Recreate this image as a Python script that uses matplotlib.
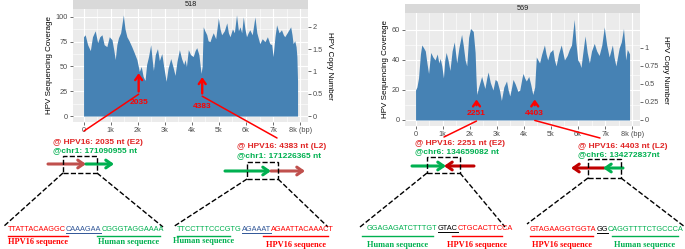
import matplotlib
matplotlib.use('Agg')
import matplotlib.pyplot as plt
from matplotlib.lines import Line2D
from matplotlib.patches import Rectangle, ConnectionPatch, FancyArrowPatch

plt.rcParams['font.family'] = ['Liberation Sans', 'DejaVu Sans']

# --- coverage, sample 518 (bp, reads) ---
pos_518 = [0, 60, 150, 250, 330, 430, 520, 600, 680, 760, 860, 950, 1050, 1120, 1170, 1230,
           1290, 1370, 1470, 1530, 1600, 1680, 1780, 1870, 1970, 2060, 2130, 2200, 2270, 2330,
           2400, 2480, 2530, 2580, 2650, 2730, 2800, 2890, 2960, 3050, 3120, 3220, 3300, 3380,
           3450, 3540, 3620, 3700, 3750, 3800, 3870, 3950, 4050, 4120, 4180, 4260, 4340, 4380,
           4420, 4480, 4550, 4600, 4670, 4730, 4790, 4880, 4980, 5040, 5100, 5200, 5290, 5350,
           5410, 5500, 5570, 5650, 5720, 5780, 5840, 5900, 5960, 6020, 6080, 6140, 6230, 6330,
           6400, 6510, 6600, 6700, 6790, 6880, 6950, 7000, 7070, 7130, 7220, 7310, 7380, 7430,
           7520, 7650, 7700, 7740, 7800, 7850, 7880, 7904]
cov_518 = [80, 82, 72, 66, 80, 86, 74, 80, 82, 72, 70, 80, 77, 66, 57, 72,
           79, 84, 102, 88, 80, 76, 70, 64, 57, 45, 50, 40, 36, 52,
           60, 72, 58, 46, 62, 68, 56, 63, 50, 35, 48, 58, 50, 41,
           55, 67, 58, 52, 57, 50, 67, 62, 60, 66, 69, 62, 43, 50,
           90, 86, 82, 76, 75, 80, 84, 78, 99, 88, 82, 86, 94, 84,
           80, 88, 84, 102, 86, 90, 84, 100, 88, 80, 84, 87, 82, 100,
           84, 73, 78, 75, 80, 73, 72, 60, 80, 92, 84, 87, 82, 80,
           84, 90, 82, 73, 76, 70, 60, 35]

# --- coverage, sample 569 ---
pos_569 = [0, 50, 110, 180, 230, 300, 360, 420, 480, 560, 640, 720, 800, 860, 910, 970,
           1030, 1080, 1130, 1200, 1270, 1350, 1430, 1520, 1600, 1700, 1760, 1830, 1890, 1960,
           2030, 2130, 2200, 2230, 2260, 2330, 2440, 2500, 2560, 2630, 2680, 2760, 2860, 2940,
           3010, 3100, 3170, 3260, 3360, 3420, 3480, 3550, 3600, 3680, 3780, 3850, 3930, 3970,
           4030, 4090, 4180, 4250, 4330, 4400, 4460, 4520, 4580, 4660, 4760, 4820, 4880, 4960,
           5070, 5130, 5190, 5280, 5380, 5440, 5500, 5600, 5680, 5760, 5860, 5920, 5990, 6060,
           6110, 6180, 6260, 6340, 6420, 6500, 6600, 6690, 6780, 6880, 6970, 7060, 7150, 7210,
           7270, 7330, 7400, 7460, 7520, 7600, 7680, 7730, 7760, 7820, 7880, 7904]
cov_569 = [20, 22, 28, 44, 50, 48, 46, 38, 31, 45, 42, 40, 44, 38, 41, 36,
           28, 40, 45, 40, 33, 46, 52, 38, 48, 57, 50, 40, 36, 55,
           61, 59, 45, 29, 17, 22, 29, 25, 21, 28, 32, 25, 20, 27,
           26, 20, 13, 22, 26, 20, 16, 22, 27, 24, 19, 20, 28, 31,
           28, 26, 29, 24, 17, 22, 42, 40, 38, 44, 50, 44, 40, 45,
           47, 40, 36, 44, 50, 45, 40, 43, 47, 50, 67, 52, 40, 38,
           35, 45, 56, 45, 38, 46, 51, 46, 43, 50, 62, 50, 42, 46,
           50, 42, 36, 42, 48, 52, 61, 50, 40, 47, 45, 44]

x_ticks = [0, 1000, 2000, 3000, 4000, 5000, 6000, 7000, 8000]
x_labels = ['0', '1k', '2k', '3k', '4k', '5k', '6k', '7k', '8k (bp)']

W, H = 685, 249
RED = '#FF0000'
GREEN = '#00B050'
BLUE = '#2F5597'


def px(x, y):
    return (x / W, 1 - y / H)


def coverage_panel(fig, rect, strip, pos, cov, ylim, yticks, ratio, cn_ticks, cn_labels):
    x0, y0, x1, y1 = rect
    ax = fig.add_axes([x0 / W, 1 - y1 / H, (x1 - x0) / W, (y1 - y0) / H])
    ax.set_facecolor('#EBEBEB')
    ax.fill_between(pos, cov, 0, color='#4682B4', lw=0, zorder=3)
    ax.set_xlim(-390, 8290)
    ax.set_ylim(*ylim)
    ax.set_xticks(x_ticks)
    ax.set_xticklabels(x_labels)
    ax.set_xticks([500 + 1000 * i for i in range(8)], minor=True)
    ax.set_yticks(yticks)
    ax.set_yticks([(a + b) / 2 for a, b in zip(yticks[:-1], yticks[1:])], minor=True)
    ax.grid(True, which='major', color='white', lw=0.8, zorder=0)
    ax.grid(True, which='minor', color='white', lw=0.4, zorder=0)
    for s in ax.spines.values():
        s.set_visible(False)
    ax.tick_params(which='major', length=2, width=0.5, color='#333333',
                   labelsize=5.3, labelcolor='#4D4D4D', pad=1.5)
    ax.tick_params(which='minor', length=0)
    ax.set_ylabel('HPV Sequencing Coverage', fontsize=5.8, labelpad=2)

    sec = ax.secondary_yaxis('right', functions=(lambda v: v / ratio, lambda v: v * ratio))
    sec.set_yticks(cn_ticks)
    sec.set_yticklabels(cn_labels)
    sec.spines['right'].set_visible(False)
    sec.tick_params(length=2, width=0.5, color='#333333', labelsize=5.3,
                    labelcolor='#4D4D4D', pad=1.5)
    sec.set_ylabel('HPV Copy Number', fontsize=5.8, rotation=270, labelpad=7)

    sa = fig.add_axes([x0 / W, 1 - y0 / H, (x1 - x0) / W, 9 / H])
    sa.set_facecolor('#D9D9D9')
    sa.set_xticks([])
    sa.set_yticks([])
    for s in sa.spines.values():
        s.set_visible(False)
    sa.text(0.5, 0.45, strip, ha='center', va='center', fontsize=5.3, color='#1A1A1A',
            transform=sa.transAxes)
    return ax


def site_marker(fig, ax, x, tip, tail, label_y, label, start_y, end):
    ax.annotate('', xy=(x, tip), xytext=(x, tail),
                arrowprops=dict(arrowstyle='->,head_length=0.35,head_width=0.25',
                                color=RED, lw=1.7), zorder=5)
    ax.text(x, label_y, label, color=RED, fontsize=6, fontweight='bold',
            ha='center', va='center', zorder=6)
    con = ConnectionPatch(xyA=(x, start_y), coordsA=ax.transData,
                          xyB=px(*end), coordsB=fig.transFigure, color=RED, lw=1.1)
    fig.add_artist(con)


def fig_arrow(fig, x0, x1, y, color):
    fig.add_artist(FancyArrowPatch(px(x0, y), px(x1, y), transform=fig.transFigure,
                                   arrowstyle='->,head_length=0.5,head_width=0.35',
                                   mutation_scale=8, color=color, lw=2.2,
                                   shrinkA=0, shrinkB=0))


def fig_line(fig, xs, ys, color='black', ls='-', lw=1.0):
    fig.add_artist(Line2D([x / W for x in xs], [1 - y / H for y in ys], color=color,
                          ls=ls, lw=lw, transform=fig.transFigure))


def zoom_box(fig, bx0, by0, bx1, by1, left_end, right_end):
    fig.add_artist(Rectangle(px(bx0, by1), (bx1 - bx0) / W, (by1 - by0) / H, fill=False,
                             ls='--', lw=1.0, ec='black', transform=fig.transFigure))
    fig_line(fig, [bx0, left_end[0]], [by1, left_end[1]], ls='--', lw=1.0)
    fig_line(fig, [bx1, right_end[0]], [by1, right_end[1]], ls='--', lw=1.0)


def seq_row(fig, renderer, x0, y0, parts):
    x = x0
    for s, c, ul in parts:
        t = fig.text(*px(x, y0), s, color=c, fontsize=5.3, ha='left', va='center')
        w = t.get_window_extent(renderer).width
        if ul:
            fig_line(fig, [x, x + w], [y0 + 4, y0 + 4], color=c, lw=0.7)
        x += w


def seq_label(fig, xa, xb, text, color, ty):
    fig_line(fig, [xa, xb], [236, 236], color=color, lw=1.0)
    fig.text(*px((xa + xb) / 2, ty), text, color=color, fontsize=6, fontweight='bold',
             family='Liberation Serif', ha='center', va='center')


fig = plt.figure(figsize=(6.85, 2.49), dpi=100)

ax1 = coverage_panel(fig, (73, 9, 308, 122), '518', pos_518, cov_518, (-6, 108),
                     [0, 25, 50, 75, 100], 45, [0, 0.5, 1, 1.5, 2], ['0', '0.5', '1', '1.5', '2'])
ax2 = coverage_panel(fig, (405, 13, 640, 126), '569', pos_569, cov_569, (-4, 71.3),
                     [0, 20, 40, 60], 48, [0, 0.25, 0.5, 0.75, 1], ['0', '0.25', '0.5', '0.75', '1'])

site_marker(fig, ax1, 2035, 46, 22, 14, '2035', 22, (84, 131))
site_marker(fig, ax1, 4383, 42, 20, 10, '4383', 20, (277, 138))
site_marker(fig, ax2, 2251, 15.5, 8, 4, '2251', -0.7, (444, 137))
site_marker(fig, ax2, 4403, 15.5, 8, 4, '4403', -0.3, (600, 138))

# breakpoint captions
hdr = [(53, 142, '@ HPV16: 2035 nt (E2)', '@chr1: 171090955 nt'),
       (237, 147, '@ HPV16: 4383 nt (L2)', '@chr1: 171226365 nt'),
       (415, 143, '@ HPV16: 2251 nt (E2)', '@chr6: 134659082 nt'),
       (578, 146, '@ HPV16: 4403 nt (L2)', '@chr6: 134272837nt')]
for x, y, a, b in hdr:
    fig.text(*px(x, y), a, color='#E02424', fontsize=6, fontweight='bold', va='center')
    fig.text(*px(x, y + 9), b, color=GREEN, fontsize=6, fontweight='bold', va='center')

# junction arrows
fig_arrow(fig, 48, 86, 164, '#C0504D')
fig_arrow(fig, 86, 114, 164, GREEN)
fig_arrow(fig, 225, 271, 171, GREEN)
fig_arrow(fig, 271, 305, 171, '#C0504D')
fig_arrow(fig, 412, 446, 166, GREEN)
fig_arrow(fig, 474, 444, 166, '#C00000')
fig_arrow(fig, 604, 571, 168, '#C00000')
fig_arrow(fig, 623, 603, 168, GREEN)

zoom_box(fig, 63, 156, 97, 173, (3, 227), (163, 227))
zoom_box(fig, 247, 162, 278, 179, (173, 227), (328, 227))
zoom_box(fig, 427, 157, 460, 173, (360, 227), (505, 227))
zoom_box(fig, 588, 159, 621, 178, (527, 224), (685, 227))

fig.canvas.draw()
r = fig.canvas.get_renderer()
seq_row(fig, r, 8, 229, [('TTATTACAAGGC', RED, False), ('CAAAGAA', BLUE, True),
                         ('CGGGTAGGAAAA', GREEN, False)])
seq_row(fig, r, 177, 229, [('TTCCTTTCCCGTG', GREEN, False), ('AGAAAT', BLUE, True),
                           ('AGAATTACAAACT', RED, False)])
seq_row(fig, r, 367, 228, [('GGAGAGATCTTTGT', GREEN, False), ('GTAC', 'black', True),
                           ('CTGCACTTCCA', RED, False)])
seq_row(fig, r, 530, 229, [('GTAGAAGGTGGTA', RED, False), ('GG', 'black', True),
                           ('CAGGTTTTCTGCCCA', GREEN, False)])

seq_label(fig, 8, 68, 'HPV16 sequence', RED, 242)
seq_label(fig, 97, 160, 'Human sequence', GREEN, 242)
seq_label(fig, 177, 230, 'Human sequence', GREEN, 241)
seq_label(fig, 263, 328, 'HPV16 sequence', RED, 245)
seq_label(fig, 362, 433, 'Human sequence', GREEN, 245)
seq_label(fig, 452, 502, 'HPV16 sequence', RED, 245)
seq_label(fig, 530, 593, 'HPV16 sequence', RED, 245)
seq_label(fig, 612, 678, 'Human sequence', GREEN, 245)

fig.savefig('out.png', dpi=100)
